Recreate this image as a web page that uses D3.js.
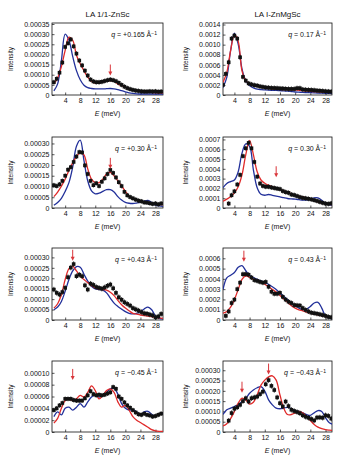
<!DOCTYPE html>
<html>
<head>
<meta charset="utf-8">
<script src="https://cdn.jsdelivr.net/npm/d3@7"></script>
<style>
    body { margin: 0; background: #fff; }
    svg text { font-family: "Liberation Sans", Arial, sans-serif; fill: #111; }
</style>
</head>
<body>
<div id="chart"></div>
<script>

// energies (meV) of the measured points and of the model curves
const ePts = [1, 1.75, 2.5, 3.25, 4, 4.75, 5.5, 6.25, 7, 7.75, 8.5, 9.25, 10, 10.75, 11.5, 12.25, 13, 13.75, 14.5, 15.25,
    16, 16.75, 17.5, 18.25, 19, 19.75, 20.5, 21.25, 22, 22.75, 23.5, 24.25, 25, 25.75, 26.5, 27.25, 28, 28.75, 29.5];
const eFit = [1, 2, 3, 4, 5, 6, 7, 8, 9, 10, 11, 12, 13, 14, 15, 16, 17, 18, 19, 20,
    21, 22, 23, 24, 25, 26, 27, 28, 29, 30];
const xTicks = [4, 8, 12, 16, 20, 24, 28];

// all intensities in units of 1e-5

// LA 1/1-ZnSc, q = +0.165
const pts_a1 = [6.3, 8.0, 11, 16, 23.7, 25.5, 27.4, 24, 20.4, 17, 14.6, 12, 9.6, 7.6, 6.7, 6.3, 6.3, 6.5, 6.9, 7.3,
    7.6, 7.3, 6.8, 6.0, 5.0, 4.1, 3.4, 2.9, 2.5, 2.2, 2.0, 1.8, 1.7, 1.7, 1.8, 1.7, 1.8, 1.6, 1.7];
const red_a1 = [5.5, 8.5, 14, 22, 28.5, 27, 19.6, 15.4, 12, 8.8, 6.8, 5.8, 6.0, 6.3, 6.8, 7.1, 6.8, 5.5, 4.6, 3.8,
    3.1, 2.5, 2.1, 1.8, 1.6, 1.5, 1.3, 1.2, 1.1, 1.1];
const blue_a1 = [2.0, 5.5, 17, 30, 27, 19, 12, 7.5, 4.8, 3.6, 3.2, 3.0, 3.0, 3.0, 3.1, 3.2, 3.0, 2.6, 2.1, 1.6,
    1.1, 0.8, 0.6, 0.5, 0.5, 0.5, 0.5, 0.5, 0.5, 0.5];

// LA I-ZnMgSc, q = 0.17
const pts_b1 = [20, 42, 65, 112, 118, 112, 75, 36, 28.5, 23, 21, 19.5, 18.6, 17, 16, 15, 14.5, 14, 13.8, 13.5,
    13, 12.8, 12.3, 12, 12, 12, 13.5, 13.5, 11, 10.5, 10.2, 10, 9.5, 8.8, 8.4, 8, 7.3, 7, 6.6];
const red_b1 = [25, 45, 88, 120, 107, 48, 28.5, 22, 19, 17, 15.5, 14, 13, 12.3, 11.6, 11, 10.7, 10.4, 10.2, 10,
    9.3, 8.6, 7.9, 7.3, 6.8, 6.3, 5.8, 5.3, 5.1, 5];
const blue_b1 = [15, 35, 88, 123, 101, 52, 28.5, 18.6, 14, 11.5, 10.5, 10, 9.6, 9.3, 9, 8.6, 8.2, 7.6, 6.8, 6,
    5.6, 5.2, 4.9, 4.6, 4.3, 4, 3.6, 3.3, 3.1, 3];

// LA 1/1-ZnSc, q = +0.30
const pts_a2 = [10.6, 10.2, 11, 12.6, 15, 17.8, 19, 21.4, 23.9, 26, 25.8, 19.8, 15.8, 12.6, 10.6, 11.5, 10.2, 12.2, 13.8, 15.8,
    17.7, 16.3, 14.2, 12, 10.2, 7.5, 5.9, 5.1, 4.5, 3.9, 3.4, 3.1, 2.6, 2.5, 2.2, 1.9, 2.1, 1.7, 2.1];
const red_a2 = [5.3, 7.4, 10.2, 13.4, 17.4, 21, 23.9, 25.8, 24.7, 18.2, 13.4, 11.8, 11.8, 13.4, 15.8, 16.6, 15, 12.6, 10.2, 7.7,
    5.6, 4.2, 3.6, 3.2, 2.9, 2.6, 2.2, 1.9, 1.7, 1.6];
const blue_a2 = [1.3, 2.6, 4.5, 7.7, 11.8, 19, 28.7, 31.5, 22, 12.6, 8, 6.6, 6.9, 7.7, 8.5, 8.5, 7.4, 5.3, 3.7, 2.6,
    2.2, 2.1, 2.3, 2.6, 3.2, 3.5, 2.6, 1.3, 1.0, 0.8];

// LA I-ZnMgSc, q = 0.30
const pts_b2 = [null, null, 4.5, 13, 17, 24, 33.8, 53, 61, 66.5, 61, 47, 32, 25, 22.5, 21.7, 21.7, 21, 20.4, 19.8,
    19.3, 17.3, 16.2, 15.5, 13.8, 13.2, 12.2, 11.1, 10.3, 9.9, 9.4, 8.8, 8, 7.2, 6.2, 5.3, 4.5, 4.2, 4.8];
const red_b2 = [6.9, 9, 11.4, 15.5, 21.7, 33.8, 54.5, 69, 54.5, 37, 28.6, 25.2, 23.3, 21.7, 20.3, 19, 17.4, 15.9, 14.4, 13,
    12.2, 11.4, 10.2, 9, 7.6, 6.2, 5, 4.1, 3.7, 3.4];
const blue_b2 = [20.7, 25, 27, 28.6, 37, 56, 65.5, 63, 39, 20.7, 14, 13, 13.8, 13, 12.2, 11.4, 10.5, 9.7, 9.3, 9,
    8.5, 8, 8.1, 8.6, 10.3, 10.3, 8, 4.5, 3.3, 2.8];

// LA 1/1-ZnSc, q = +0.43
const pts_a3 = [14.6, 13, 12.2, 13.4, 15.4, 20.5, 25.1, 26.8, 21, 21.7, 21, 16.6, 14.6, 17.4, 16.8, 15.8, 15.4, 15, 15.6, 16.4,
    17, 15.2, 13, 10.9, 9.7, 8.5, 7.7, 6.9, 5.7, 5.1, 4.5, 3.8, 3.2, 3, 2.6, 2.2, 1.3, 1.7, 2.9];
const red_a3 = [5.7, 7.8, 12.2, 19.4, 24.6, 25.8, 23.5, 21, 19.4, 17.8, 16.5, 15.4, 14.9, 14.6, 14.3, 13.3, 11.7, 9.4, 7.3, 5.7,
    4.4, 3.2, 2.8, 2.4, 2.1, 1.9, 1.6, 1.3, 1, 0.8];
const blue_a3 = [4.9, 6.2, 8.9, 13.8, 19.4, 23.5, 25.6, 25.3, 21.9, 18.6, 16.2, 14.9, 14.6, 14.3, 13, 10.5, 8.1, 6.5, 5.2, 4,
    3.2, 2.9, 3.2, 4, 5.3, 6.2, 4.9, 1.9, 0.8, 0.5];

// LA I-ZnMgSc, q = 0.43
const pts_b3 = [null, 4, 8.3, 16.5, 19.8, 30, 36.3, 44.5, 44.6, 44, 41.3, 38.8, 38, 37, 36.3, 37, 32.3, 27.5, 25.5, 25.5,
    26.4, 22.5, 19.8, 17.8, 16.5, 14.5, 14.2, 14, 11.6, 9.8, 8.3, 7.1, 6.6, 6.1, 5.5, 4.8, 4, 3, 2.6];
const red_b3 = [6.6, 8.3, 12.5, 19.8, 29.7, 39.6, 42.9, 41.3, 39.6, 38.6, 37, 34.7, 32.3, 29.7, 27.1, 23.8, 20.5, 17.2, 13.9, 11.6,
    9.9, 8.9, 7.7, 6.6, 5.8, 5, 4.1, 3.3, 2.9, 2.6];
const blue_b3 = [29.7, 41, 43.5, 46.2, 51.2, 52.8, 47.9, 43.6, 41.3, 39.6, 38, 36.3, 34.7, 32.3, 29.7, 26.4, 23.1, 19.8, 16.5, 13.9,
    11.6, 9.9, 10.6, 13.2, 16.5, 17.2, 11.6, 4, 1.7, 1];

// LA 1/1-ZnSc, q = -0.45
const pts_a4 = [3.7, 4, 4.5, 4.9, 5.6, 5.6, 5.6, 5.4, 5.3, 5.3, 5.3, 5.7, 6.2, 6.9, 6.4, 6.2, 6.3, 6.2, 6.3, 6.5,
    6.7, 7.6, 7.3, 6, 5.6, 5, 4.5, 4.1, 3.7, 3.3, 3, 2.9, 3.1, 2.9, 2.8, 2.6, 2.7, 2.9, 3.1];
const red_a4 = [1.5, 2.3, 4, 5.3, 5.6, 5.3, 5.6, 6.2, 5.9, 6.7, 7.8, 7, 5.6, 6.2, 7, 7.3, 6.7, 5.1, 4.2, 4.5,
    3.7, 2.6, 2, 1.6, 1.2, 0.8, 0.4, 0.2, 0.1, 0.1];
const blue_a4 = [2.6, 3.4, 2.9, 4, 4.2, 3.7, 4.2, 4.8, 4.2, 5.1, 5.9, 6.3, 5.9, 6.3, 6.7, 7.3, 7.4, 6.4, 4.8, 4,
    3.7, 3.8, 3.4, 2.9, 3.4, 3.5, 3, 2.7, 3.1, 3.1];

// LA I-ZnMgSc, q = -0.43
const pts_b4 = [null, null, 5.5, 9.2, 11.3, 12, 13.2, 15, 16.4, 14.8, 16.4, 16.8, 17.2, 18.4, 19.6, 23.2, 25.2, 22.4, 20.4, 16.8,
    14, 12.4, 14.8, 12.6, 10.8, 10.2, 9.7, 9.1, 8.1, 7.4, 6.9, 6.3, 5.6, 7, 7.1, 6.9, 8.1, 7.8, 6.5];
const red_b4 = [2.9, 4, 6.5, 10, 14, 16.4, 15.6, 13.6, 14.5, 18, 22.8, 25.2, 26.8, 27.3, 25.2, 18, 11.6, 8.5, 8.5, 9.3,
    10, 9.3, 7.7, 5.6, 3.7, 2.4, 1.6, 1.1, 0.9, 0.8];
const blue_b4 = [8.5, 10.8, 11.6, 12.4, 13.2, 14.8, 16.4, 18.8, 20.4, 21.5, 22, 19.9, 15.6, 13.2, 11.6, 11.3, 11.6, 12, 11.3, 10.4,
    10, 9.3, 8.5, 8.1, 9.3, 10.4, 10, 6.9, 4.5, 3.7];

// q values and marked modes [E, intensity at arrow tip]
const qLabels = ["+0.165", "0.17", "+0.30", "0.30", "+0.43", "0.43", "\u22120.45", "\u22120.43"];
const arrows = [[[16, 9.6]], [], [[16, 18.2]], [[15, 31.4]], [[6, 28.4]], [[6.5, 56.7]], [[6, 8.8]], [[6, 19.1], [13, 27.9]]];
const errs = [1.2, 5, 1.1, 2.5, 1.3, 2.5, 0.4, 1.3];

// axis tops and tick steps (1e-5 units)
const yMaxes = [35.5, 143, 33, 72.5, 34.5, 70, 12, 34.5];
const yTops = [35, 140, 30, 70, 30, 60, 10, 30];
const ySteps = [5, 20, 5, 10, 5, 10, 2, 5];
const yDecimals = [5, 4, 5, 4, 5, 4, 5, 5];

const titles = ["LA 1/1-ZnSc", "LA I-ZnMgSc"];

const ptsList = [pts_a1, pts_b1, pts_a2, pts_b2, pts_a3, pts_b3, pts_a4, pts_b4];
const redList = [red_a1, red_b1, red_a2, red_b2, red_a3, red_b3, red_a4, red_b4];
const blueList = [blue_a1, blue_b1, blue_a2, blue_b2, blue_a3, blue_b3, blue_a4, blue_b4];

// layout
const W = 350, H = 465;
const cols = [{x0: 52, x1: 163, dom: [0.5, 30], lab: 11}, {x0: 223, x1: 332, dom: [1, 29.7], lab: 186}];
const rows = [{y0: 23, y1: 95}, {y0: 137, y1: 208}, {y0: 248, y1: 320}, {y0: 361, y1: 432}];

const RED = "#e02a2a", BLUE = "#22309a", ARROW = "#d9363b";

let svg = d3.select("#chart").append("svg")
    .attr("width", W)
    .attr("height", H);

// column titles
titles.forEach((t, i) => {
    svg.append("text")
        .attr("x", (cols[i].x0 + cols[i].x1) / 2)
        .attr("y", 17)
        .attr("text-anchor", "middle")
        .style("font-size", "8px")
        .text(t);
});

ptsList.forEach((pts, i) => {
    let c = cols[i % 2], r = rows[Math.floor(i / 2)];

    let x = d3.scaleLinear().domain(c.dom).range([c.x0, c.x1]);
    let y = d3.scaleLinear().domain([0, yMaxes[i]]).range([r.y1, r.y0]);

    let g = svg.append("g");

    g.append("clipPath").attr("id", "clip" + i)
        .append("rect")
        .attr("x", c.x0).attr("y", r.y0)
        .attr("width", c.x1 - c.x0).attr("height", r.y1 - r.y0);

    // axes, ticks pointing inwards
    let xAxis = d3.axisBottom(x).tickValues(xTicks).tickSize(-2.5).tickPadding(3);
    let gx = g.append("g")
        .attr("transform", `translate(0,${r.y1})`)
        .call(xAxis);

    let yAxis = d3.axisLeft(y)
        .tickValues(d3.range(0, yTops[i] + 0.001, ySteps[i]))
        .tickFormat(d => d === 0 ? "0" : (d * 1e-5).toFixed(yDecimals[i]))
        .tickSize(-2.5).tickPadding(2.5);
    let gy = g.append("g")
        .attr("transform", `translate(${c.x0},0)`)
        .call(yAxis);

    [gx, gy].forEach(a => {
        a.select(".domain").remove();
        a.selectAll("text").style("font-size", "7px").attr("fill", "#111");
        a.selectAll("line").attr("stroke", "#111").attr("stroke-width", 0.7);
    });

    g.append("rect")
        .attr("x", c.x0).attr("y", r.y0)
        .attr("width", c.x1 - c.x0).attr("height", r.y1 - r.y0)
        .attr("fill", "none")
        .attr("stroke", "#111")
        .attr("stroke-width", 0.8);

    // axis titles
    g.append("text")
        .attr("transform", `translate(${c.lab},${(r.y0 + r.y1) / 2}) rotate(-90)`)
        .attr("text-anchor", "middle")
        .attr("dy", "0.35em")
        .style("font-size", "6.5px")
        .text("Intensity");

    let xl = g.append("text")
        .attr("x", (c.x0 + c.x1) / 2)
        .attr("y", r.y1 + 21)
        .attr("text-anchor", "middle")
        .style("font-size", "7px");
    xl.append("tspan").style("font-style", "italic").text("E");
    xl.append("tspan").text(" (meV)");

    // q label
    let ql = g.append("text")
        .attr("x", c.x1 - 6)
        .attr("y", r.y0 + 14)
        .attr("text-anchor", "end")
        .style("font-size", "7px");
    ql.append("tspan").style("font-style", "italic").text("q");
    ql.append("tspan").text(" = " + qLabels[i] + " \u00C5");
    ql.append("tspan").attr("dy", -2.5).style("font-size", "5px").text("\u22121");

    // model curves
    let plot = g.append("g").attr("clip-path", `url(#clip${i})`);

    let line = d3.line()
        .x((d, j) => x(eFit[j]))
        .y(d => y(d))
        .curve(d3.curveCatmullRom.alpha(0.5));

    plot.append("path")
        .datum(blueList[i])
        .attr("d", line)
        .attr("fill", "none")
        .attr("stroke", BLUE)
        .attr("stroke-width", 1.3);

    plot.append("path")
        .datum(redList[i])
        .attr("d", line)
        .attr("fill", "none")
        .attr("stroke", RED)
        .attr("stroke-width", 1.3);

    // measured points with error bars
    let measured = ePts.map((e, j) => ({e: e, v: pts[j]})).filter(d => d.v != null);

    plot.selectAll(".err")
        .data(measured)
        .enter().append("line")
        .attr("class", "err")
        .attr("x1", d => x(d.e)).attr("x2", d => x(d.e))
        .attr("y1", d => y(d.v - errs[i])).attr("y2", d => y(d.v + errs[i]))
        .attr("stroke", "#111")
        .attr("stroke-width", 0.8);

    plot.selectAll(".pt")
        .data(measured)
        .enter().append("rect")
        .attr("class", "pt")
        .attr("x", d => x(d.e) - 1.8)
        .attr("y", d => y(d.v) - 1.8)
        .attr("width", 3.6)
        .attr("height", 3.6)
        .attr("fill", "#111");

    // red arrows marking the modes
    arrows[i].forEach(a => {
        let ax = x(a[0]), ay = y(a[1]);
        g.append("line")
            .attr("x1", ax).attr("x2", ax)
            .attr("y1", ay - 11).attr("y2", ay - 3)
            .attr("stroke", ARROW)
            .attr("stroke-width", 1);
        g.append("path")
            .attr("d", `M${ax - 2},${ay - 4} L${ax + 2},${ay - 4} L${ax},${ay} Z`)
            .attr("fill", ARROW);
    });
});

</script>
</body>
</html>
